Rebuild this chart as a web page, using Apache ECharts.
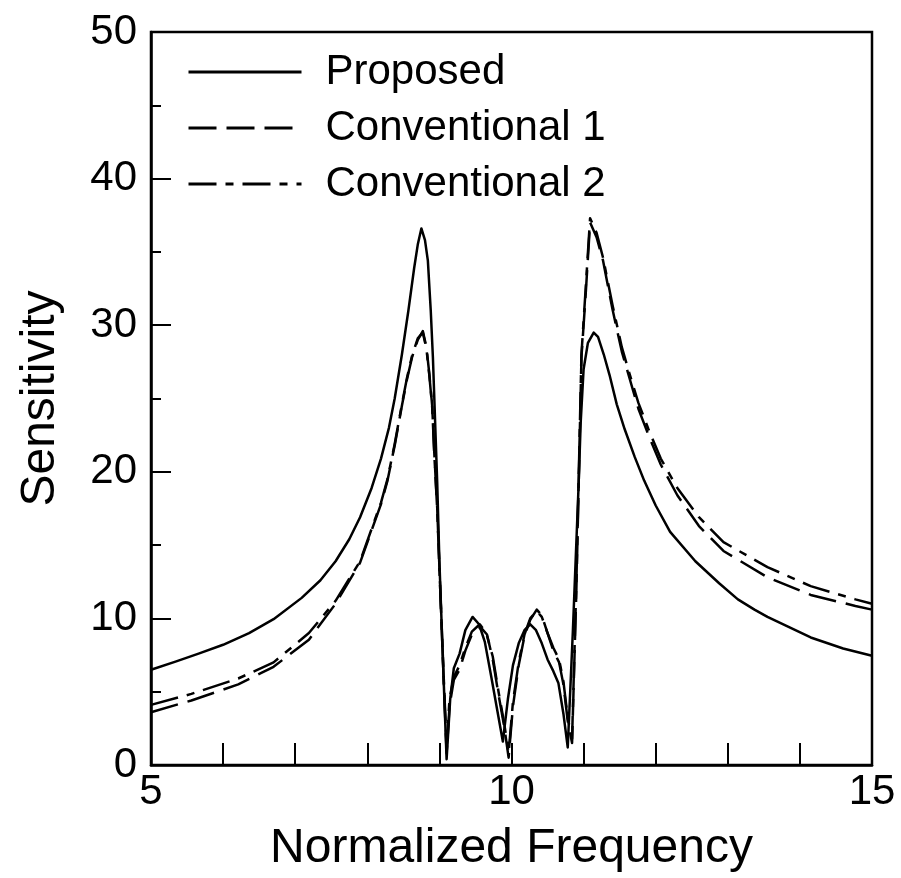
<!DOCTYPE html>
<html lang="en">

<head>
  <meta charset="UTF-8">
  <title>Sensitivity</title>
  <script src="https://cdn.jsdelivr.net/npm/echarts@6/dist/echarts.min.js"></script>
</head>

<body style="margin:0;background:#fff;">
  <div id="main" style="width: 901px;height:878px;"></div>

  <script>
    // values
    var propX = [5.0, 5.34, 5.66, 6.0, 6.36, 6.7, 7.09, 7.35, 7.56, 7.75, 7.9, 8.06, 8.19, 8.3, 8.38, 8.48, 8.57, 8.65, 8.7, 8.75,
      8.8, 8.84, 8.88, 8.91, 8.97, 9.0, 9.05, 9.1, 9.15, 9.2, 9.28, 9.36, 9.46, 9.55, 9.63, 9.72, 9.8, 9.88, 9.95, 10.02,
      10.1, 10.18, 10.26, 10.34, 10.42, 10.5, 10.58, 10.65, 10.72, 10.78, 10.85, 10.93, 10.96, 11.0, 11.06, 11.14, 11.2, 11.28, 11.36, 11.46,
      11.57, 11.71, 11.84, 12.0, 12.2, 12.55, 12.88, 13.14, 13.37, 13.55, 14.15, 14.6, 15.0];
    var propY = [6.5, 7.05, 7.6, 8.2, 9.0, 9.95, 11.4, 12.6, 13.9, 15.4, 16.9, 18.9, 20.9, 23.0, 25.0, 28.0, 31.0, 33.9, 35.5, 36.6,
      35.8, 34.4, 31.0, 27.8, 19.2, 13.9, 7.0, 0.4, 4.5, 6.6, 7.6, 9.2, 10.1, 9.6, 8.4, 6.0, 3.8, 1.6, 4.5, 6.8,
      8.3, 9.2, 9.6, 9.2, 8.3, 7.2, 6.4, 5.6, 3.5, 1.2, 9.0, 19.0, 23.4, 27.0, 28.8, 29.5, 29.2, 28.0, 26.6, 24.6,
      22.9, 21.0, 19.4, 17.7, 15.9, 13.9, 12.4, 11.3, 10.6, 10.1, 8.7, 7.95, 7.45];

    var conv1X = [5.0, 5.56, 6.21, 6.7, 7.19, 7.56, 7.9, 8.19, 8.28, 8.38, 8.48, 8.55, 8.62, 8.7, 8.77, 8.82, 8.86, 8.9, 8.93, 8.97,
      9.0, 9.05, 9.1, 9.14, 9.2, 9.28, 9.36, 9.45, 9.57, 9.66, 9.74, 9.82, 9.9, 9.96, 10.02, 10.1, 10.18, 10.26, 10.35, 10.42,
      10.5, 10.58, 10.66, 10.72, 10.78, 10.84, 10.9, 10.97, 11.03, 11.09, 11.18, 11.27, 11.4, 11.53, 11.63, 11.76, 11.9, 12.07, 12.3, 12.6,
      12.94, 13.55, 14.15, 14.77, 15.0];
    var conv1Y = [3.6, 4.4, 5.5, 6.7, 8.55, 11.0, 13.8, 17.8, 19.4, 21.8, 24.5, 26.3, 27.8, 29.0, 29.6, 28.5, 26.7, 24.5, 21.2, 17.5,
      13.5, 7.0, 0.8, 4.0, 5.8, 6.5, 7.8, 8.9, 9.4, 8.9, 7.2, 4.8, 2.6, 0.5, 4.0, 6.8, 8.8, 9.9, 10.6, 10.2,
      9.0, 7.8, 7.0, 5.5, 3.0, 1.5, 12.0, 27.8, 32.2, 37.0, 36.0, 34.4, 31.1, 28.2, 26.5, 24.3, 22.5, 20.5, 18.4, 16.3,
      14.6, 12.8, 11.6, 10.85, 10.6];

    var conv2X = [5.0, 5.56, 6.21, 6.7, 7.19, 7.56, 7.9, 8.19, 8.28, 8.38, 8.48, 8.55, 8.62, 8.7, 8.77, 8.82, 8.86, 8.9, 8.93, 8.97,
      9.0, 9.05, 9.1, 9.14, 9.2, 9.28, 9.36, 9.45, 9.56, 9.65, 9.74, 9.82, 9.9, 9.96, 10.02, 10.1, 10.18, 10.26, 10.35, 10.42,
      10.5, 10.58, 10.66, 10.72, 10.78, 10.84, 10.9, 10.97, 11.03, 11.09, 11.18, 11.27, 11.4, 11.53, 11.63, 11.76, 11.9, 12.07, 12.3, 12.6,
      12.94, 13.55, 14.15, 14.77, 15.0];
    var conv2Y = [4.1, 4.85, 5.9, 7.0, 9.0, 11.2, 13.9, 17.9, 19.5, 21.9, 24.6, 26.4, 27.9, 29.1, 29.5, 28.4, 26.6, 24.4, 21.1, 17.4,
      13.4, 7.2, 1.2, 4.5, 6.0, 6.8, 8.0, 9.1, 9.6, 9.0, 7.4, 5.0, 2.8, 0.8, 4.3, 7.0, 8.9, 10.0, 10.5, 10.1,
      9.0, 8.0, 7.2, 5.7, 3.2, 1.8, 12.5, 28.0, 32.6, 37.3, 36.3, 34.6, 31.4, 28.5, 26.8, 24.7, 22.9, 20.9, 18.9, 16.9,
      15.2, 13.5, 12.2, 11.3, 11.0];

    var names = ['Proposed', 'Conventional 1', 'Conventional 2'];
    var xLabels = [5, 10, 15];

    function pairs(xs, ys) {
      var out = [];
      for (var i = 0; i < xs.length; i++) {
        out.push([xs[i], ys[i]]);
      }
      return out;
    }

    var font = 'Liberation Sans, Arial, Helvetica, sans-serif';
    var myChart = echarts.init(document.getElementById('main'));

    function lineSeries(name, data, dash) {
      return {
        name: name,
        type: 'line',
        data: data,
        symbol: 'none',
        smooth: false,
        lineStyle: { color: '#000', width: 2.5, type: dash, join: 'round' },
        itemStyle: { color: '#000' }
      };
    }

    var option = {
      animation: false,
      backgroundColor: '#fff',
      grid: {
        left: 151, right: 29, top: 32, bottom: 92,
        show: true, borderColor: '#000', borderWidth: 2.5
      },
      legend: {
        data: names,
        orient: 'vertical',
        left: 182,
        top: 46,
        itemWidth: 113,
        itemHeight: 14,
        itemGap: 14,
        itemStyle: { opacity: 0 },
        lineStyle: { width: 3 },
        textStyle: { fontFamily: font, fontSize: 42, color: '#000', lineHeight: 42, padding: [0, 0, 0, 19] }
      },
      xAxis: {
        type: 'value',
        min: 5, max: 15, interval: 1,
        name: 'Normalized Frequency',
        nameLocation: 'middle',
        nameGap: 60,
        nameTextStyle: { fontFamily: font, fontSize: 48, color: '#000' },
        axisLine: { lineStyle: { color: '#000', width: 2.5 } },
        axisTick: { inside: true, length: 22, lineStyle: { color: '#000', width: 2 } },
        axisLabel: {
          fontFamily: font, fontSize: 42, color: '#000', margin: 6,
          formatter: function (v) { return xLabels.indexOf(v) >= 0 ? String(v) : ''; }
        },
        splitLine: { show: false }
      },
      yAxis: {
        type: 'value',
        min: 0, max: 50, interval: 10,
        name: 'Sensitivity',
        nameLocation: 'middle',
        nameGap: 86,
        nameTextStyle: { fontFamily: font, fontSize: 48, color: '#000' },
        axisLine: { lineStyle: { color: '#000', width: 2.5 } },
        axisTick: { inside: true, length: 20, lineStyle: { color: '#000', width: 2 } },
        minorTick: { show: true, splitNumber: 2, length: 10, lineStyle: { color: '#000', width: 2 } },
        axisLabel: { fontFamily: font, fontSize: 42, color: '#000', margin: 14 },
        splitLine: { show: false }
      },
      series: [
        lineSeries(names[0], pairs(propX, propY), 'solid'),
        lineSeries(names[1], pairs(conv1X, conv1Y), [28, 10]),
        lineSeries(names[2], pairs(conv2X, conv2Y), [28, 9, 8, 9])
      ]
    };

    myChart.setOption(option);
  </script>
</body>

</html>
